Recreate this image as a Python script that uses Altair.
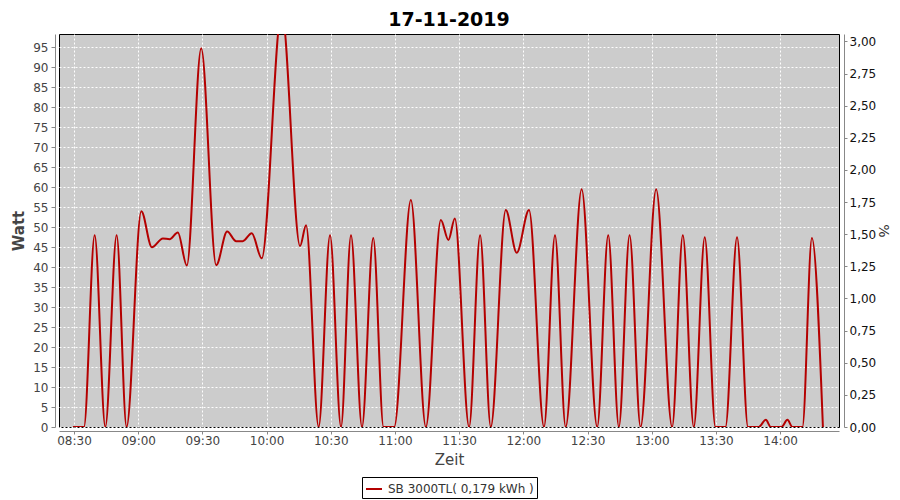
import altair as alt
import pandas as pd

# ---- data ----
times = [
    "08:29:30", "08:34:40", "08:39:40", "08:44:39", "08:49:56", "08:54:35",
    "09:01:27", "09:06:24", "09:11:32", "09:14:40", "09:18:32", "09:22:44",
    "09:29:27", "09:36:27", "09:41:35", "09:45:47", "09:48:52", "09:53:04",
    "09:57:44", "10:07:04", "10:15:39", "10:18:27", "10:24:20", "10:29:39",
    "10:34:47", "10:39:27", "10:44:35", "10:49:51", "10:54:40", "10:59:39",
    "11:07:26", "11:14:26", "11:21:26", "11:24:59", "11:27:58", "11:34:39",
    "11:39:47", "11:44:46", "11:51:46", "11:56:54", "12:02:39", "12:09:39",
    "12:14:47", "12:19:46", "12:27:14", "12:34:31", "12:39:39", "12:44:38",
    "12:49:38", "12:54:46", "13:02:03", "13:09:31", "13:14:31", "13:19:38",
    "13:24:46", "13:29:46", "13:34:26", "13:39:51", "13:44:59", "13:49:58",
    "13:53:18", "13:55:36", "14:00:36", "14:03:24", "14:05:42", "14:10:24",
    "14:14:50", "14:19:59",
]
watts = [
    0, 0, 48, 0, 48, 0,
    54, 45, 47.2, 47, 48.7, 40.4,
    94.8, 40.5, 48.9, 46.5, 46.5, 48.5,
    42.2, 104, 45.3, 50.5, 0, 48,
    0, 48, 0, 47.3, 0, 0,
    56.8, 0, 51.8, 46.8, 52.2, 0,
    48, 0, 54.3, 43.6, 54.3, 0,
    48, 0, 59.5, 0, 48, 0,
    48, 0, 59.5, 0, 48, 0,
    47.5, 0, 0, 47.5, 0, 0,
    1.8, 0, 0, 1.8, 0, 0,
    47.3, 0,
]
series_name = "SB 3000TL( 0,179 kWh )"
title_text = "17-11-2019"
x_tick_labels = ["08:30", "09:00", "09:30", "10:00", "10:30", "11:00",
                 "11:30", "12:00", "12:30", "13:00", "13:30", "14:00"]
watt_ticks = [0, 5, 10, 15, 20, 25, 30, 35, 40, 45, 50, 55, 60, 65, 70, 75, 80, 85, 90, 95]
pct_ticks = [0, 0.25, 0.5, 0.75, 1.0, 1.25, 1.5, 1.75, 2.0, 2.25, 2.5, 2.75, 3.0]
x_start, x_end = "08:23:00", "14:27:30"
watt_max = 98.35
pct_max = 3.058


def dt(hms):
    h, m, s = (int(v) for v in (hms.split(":") + ["0"])[:3])
    return alt.DateTime(year=2019, month=11, date=17, hours=h, minutes=m, seconds=s)


df = pd.DataFrame({
    "t": ["2019-11-17T" + t for t in times],
    "w": watts,
    "s": [series_name] * len(times),
})
pct_df = pd.DataFrame({"p": [0.0]})

FONT = "DejaVu Sans"
RED = "#b40000"

line = alt.Chart(df).mark_line(
    color=RED, strokeWidth=2, clip=True, interpolate="monotone"
).encode(
    x=alt.X(
        "t:T",
        scale=alt.Scale(domain=[dt(x_start), dt(x_end)], nice=False),
        axis=alt.Axis(
            values=[dt(v) for v in x_tick_labels], format="%H:%M", title="Zeit",
            grid=True, gridColor="white", gridDash=[2, 2], gridWidth=1,
            offset=4, domainColor="#888888", tickColor="#888888", tickSize=3,
            labelPadding=1, labelFont=FONT, labelFontSize=12, labelColor="#444444",
            titleFont=FONT, titleFontSize=15, titleFontWeight="normal",
            titleColor="#444444", titlePadding=6,
        ),
    ),
    y=alt.Y(
        "w:Q",
        scale=alt.Scale(domain=[0, watt_max], nice=False, zero=False),
        axis=alt.Axis(
            values=watt_ticks, title="Watt",
            grid=True, gridColor="white", gridDash=[2, 2], gridWidth=1,
            offset=4, domainColor="#888888", tickColor="#888888", tickSize=4,
            labelPadding=3, labelFont=FONT, labelFontSize=12, labelColor="#444444",
            titleFont=FONT, titleFontSize=15, titleFontWeight="bold",
            titleColor="#444444", titlePadding=6,
        ),
    ),
    color=alt.Color(
        "s:N",
        scale=alt.Scale(range=[RED]),
        legend=alt.Legend(
            title=None, orient="none", legendX=303, legendY=443,
            strokeColor="black", fillColor="white", padding=3,
            symbolType="stroke", symbolStrokeWidth=2, symbolSize=256,
            labelFont=FONT, labelFontSize=12, labelColor="#333333", labelOffset=5,
        ),
    ),
)

right = alt.Chart(pct_df).mark_point(opacity=0).encode(
    y=alt.Y(
        "p:Q",
        scale=alt.Scale(domain=[0, pct_max], nice=False, zero=False),
        axis=alt.Axis(
            orient="right", values=pct_ticks, title="%", grid=False,
            labelExpr="replace(format(datum.value, '.2f'), '.', ',')",
            offset=5, domainColor="#888888", tickColor="#888888", tickSize=3,
            labelPadding=2, labelFont=FONT, labelFontSize=12, labelColor="#111111",
            titleFont=FONT, titleFontSize=14, titleFontWeight="normal",
            titleColor="#333333", titlePadding=0,
        ),
    )
)

chart = alt.layer(line, right).resolve_scale(y="independent").properties(
    width=780,
    height=393,
    padding={"left": 51, "top": 26, "right": 53, "bottom": 72},
    autosize=alt.AutoSizeParams(type="none"),
    background="white",
    title=alt.Title(
        title_text, font=FONT, fontSize=19, fontWeight="bold", color="black",
        anchor="middle", frame="group", offset=4,
    ),
).configure_view(
    fill="#cccccc", stroke="black", strokeWidth=1
)

chart.save("out.html", embed_options={"renderer": "svg", "actions": False})
